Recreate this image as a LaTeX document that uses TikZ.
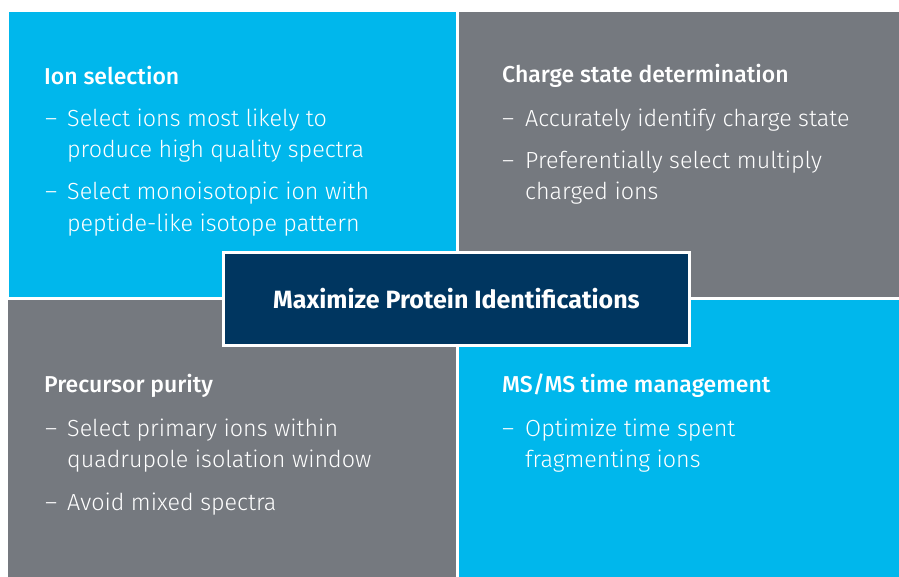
\documentclass[tikz,border=0pt]{standalone}
\usepackage{fontspec}
\usepackage{tikz}
\IfFontExistsTF{Fira Sans Light}
  {\newfontfamily\lightfont{Fira Sans Light}}
  {\newfontfamily\lightfont{Fira Sans}}
\IfFontExistsTF{Fira Sans Medium}
  {\newfontfamily\headfont{Fira Sans Medium}}
  {\newfontfamily\headfont{Fira Sans}[BoldFont={* Bold}]}
\newfontfamily\goalfont{Fira Sans}

\definecolor{quadblue}{HTML}{00B7EC}
\definecolor{quadgray}{HTML}{75797F}
\definecolor{goalnavy}{HTML}{003660}

\begin{document}
\begin{tikzpicture}[x=1pt,y=-1pt,
  heading/.style={anchor=base west,inner sep=0pt,text=white,font=\headfont\fontsize{23}{27}\selectfont},
  item/.style={anchor=base west,inner sep=0pt,text=white,font=\lightfont\fontsize{23.3}{28}\selectfont},
  goal/.style={draw=white,line width=3pt,fill=goalnavy,text=white,minimum width=466pt,minimum height=93pt,inner sep=0pt,font=\goalfont\bfseries\fontsize{25}{30}\selectfont}]

\useasboundingbox (0,0) rectangle (899,577);

% four quadrants
\fill[quadblue] (9,12) rectangle (456,297);
\fill[quadgray] (459,12) rectangle (899,297);
\fill[quadgray] (8,300) rectangle (456,577);
\fill[quadblue] (459,300) rectangle (899,577);

% top left
\node[heading] (ionsel) at (44,85) {Ion selection};
\node[item] (d1) at (45,127) {–};
\node[item] (l1) at (67,127) {Select ions most likely to};
\node[item] (l2) at (67,158) {produce high quality spectra};
\node[item] (d2) at (45,200) {–};
\node[item] (l3) at (67,200) {Select monoisotopic ion with};
\node[item] (l4) at (67,232) {peptide-like isotope pattern};

% top right
\node[heading] (charge) at (502,83) {Charge state determination};
\node[item] (d3) at (502,127) {–};
\node[item] (r1) at (525,127) {Accurately identify charge state};
\node[item] (d4) at (502,169) {–};
\node[item] (r2) at (525,169) {Preferentially select multiply};
\node[item] (r3) at (525,200) {charged ions};

% bottom left
\node[heading] (purity) at (44,392) {Precursor purity};
\node[item] (d5) at (45,436) {–};
\node[item] (p1) at (67,436) {Select primary ions within};
\node[item] (p2) at (67,467) {quadrupole isolation window};
\node[item] (d6) at (45,510) {–};
\node[item] (p3) at (67,510) {Avoid mixed spectra};

% bottom right
\node[heading] (msms) at (502,392) {MS/MS time management};
\node[item] (d7) at (502,436) {–};
\node[item] (m1) at (525,436) {Optimize time spent};
\node[item] (m2) at (525,467) {fragmenting ions};

% centre box
\node[goal] (maxid) at (456.5,299) {Maximize Protein Identifications};

\end{tikzpicture}
\end{document}
